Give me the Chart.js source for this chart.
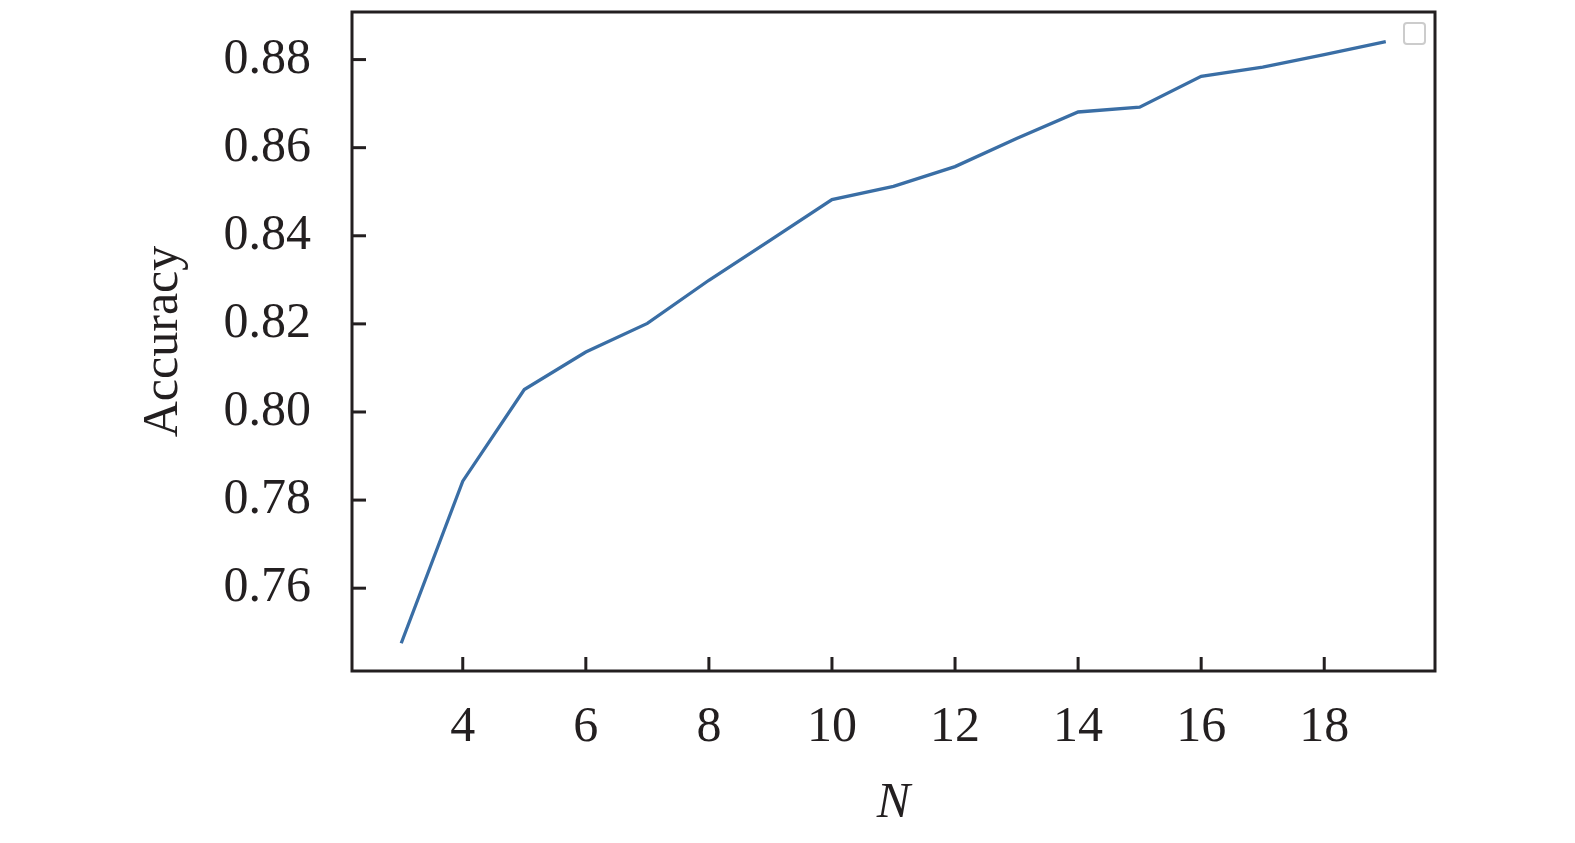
<!DOCTYPE html>
<html>
<head>
<meta charset="utf-8">
<script src="https://cdn.jsdelivr.net/npm/chart.js@4.4.1/dist/chart.umd.min.js"></script>
<style>
    html, body { margin: 0; padding: 0; background: #ffffff; }
    #wrap { width: 1575px; height: 843px; }
</style>
</head>
<body>
<div id="wrap"><canvas id="myChart" width="1575" height="843"></canvas></div>
<script>
// 横軸 N と精度
var nValues = [3, 4, 5, 6, 7, 8, 9, 10, 11, 12, 13, 14, 15, 16, 17, 18, 19];
var accuracy = [0.7475, 0.7843, 0.8051, 0.8136, 0.8201, 0.8299, 0.8390, 0.8482, 0.8512, 0.8557, 0.8621, 0.8681, 0.8692, 0.8762, 0.8783, 0.8811, 0.8841];

// 目盛り
var xTicks = [4, 6, 8, 10, 12, 14, 16, 18];
var yTicks = [0.76, 0.78, 0.80, 0.82, 0.84, 0.86, 0.88];
var yTickLabels = ['0.76', '0.78', '0.80', '0.82', '0.84', '0.86', '0.88'];

var inkColor = '#231f20';
var serif = '"Liberation Serif", "Times New Roman", serif';

// 枠線と内向きの目盛り、空の凡例枠
var framePlugin = {
    id: 'frame',
    afterDraw: function (chart) {
        var ctx = chart.ctx;
        var area = chart.chartArea;
        var xs = chart.scales.x;
        var ys = chart.scales.y;
        ctx.save();
        ctx.strokeStyle = inkColor;
        ctx.lineWidth = 3;
        ctx.lineCap = 'butt';
        // 目盛り
        xTicks.forEach(function (v) {
            var px = xs.getPixelForValue(v);
            ctx.beginPath();
            ctx.moveTo(px, area.bottom);
            ctx.lineTo(px, area.bottom - 14);
            ctx.stroke();
        });
        yTicks.forEach(function (v) {
            var py = ys.getPixelForValue(v);
            ctx.beginPath();
            ctx.moveTo(area.left, py);
            ctx.lineTo(area.left + 14, py);
            ctx.stroke();
        });
        // 枠
        ctx.strokeRect(area.left, area.top, area.right - area.left, area.bottom - area.top);
        // 凡例枠 (ラベルなし)
        ctx.strokeStyle = '#cccccc';
        ctx.lineWidth = 2;
        ctx.beginPath();
        ctx.roundRect(area.right - 31, area.top + 11, 21, 21, 3);
        ctx.stroke();
        ctx.restore();
    }
};

var ctx = document.getElementById('myChart').getContext('2d');
var config = {
    type: 'line',
    data: {
        datasets: [{
            label: 'Accuracy',
            data: nValues.map(function (n, i) { return { x: n, y: accuracy[i] }; }),
            borderColor: '#3a6ea5',
            borderWidth: 3.3,
            pointRadius: 0,
            tension: 0,
            fill: false
        }]
    },
    options: {
        responsive: false,
        devicePixelRatio: 1,
        animation: false,
        layout: {
            padding: { top: 12, right: 140, left: 0, bottom: 0 }
        },
        plugins: {
            legend: { display: false },
            tooltip: { enabled: false }
        },
        scales: {
            x: {
                type: 'linear',
                min: 2.2,
                max: 19.8,
                afterBuildTicks: function (scale) {
                    scale.ticks = xTicks.map(function (v) { return { value: v }; });
                },
                afterFit: function (scale) {
                    scale.height = 172;
                    scale.paddingLeft = 0;
                    scale.paddingRight = 0;
                },
                grid: { display: false, drawTicks: false },
                border: { display: false },
                ticks: {
                    padding: 27,
                    color: inkColor,
                    maxRotation: 0,
                    autoSkip: false,
                    font: { family: serif, size: 50 },
                    callback: function (value) { return String(value); }
                },
                title: {
                    display: true,
                    text: 'N',
                    color: inkColor,
                    padding: { top: 0, bottom: 9 },
                    font: { family: serif, size: 50, style: 'italic' }
                }
            },
            y: {
                type: 'linear',
                min: 0.7412,
                max: 0.8908,
                afterBuildTicks: function (scale) {
                    scale.ticks = yTicks.map(function (v) { return { value: v }; });
                },
                afterFit: function (scale) {
                    scale.width = 352;
                    scale.paddingTop = 0;
                    scale.paddingBottom = 0;
                },
                grid: { display: false, drawTicks: false },
                border: { display: false },
                ticks: {
                    padding: 41,
                    color: inkColor,
                    autoSkip: false,
                    font: { family: serif, size: 50 },
                    callback: function (value, index) { return yTickLabels[index]; }
                },
                title: {
                    display: true,
                    text: 'Accuracy',
                    color: inkColor,
                    padding: { top: 134, bottom: 0 },
                    font: { family: serif, size: 50 }
                }
            }
        }
    },
    plugins: [framePlugin]
};
var myChart = new Chart(ctx, config);
</script>
</body>
</html>
